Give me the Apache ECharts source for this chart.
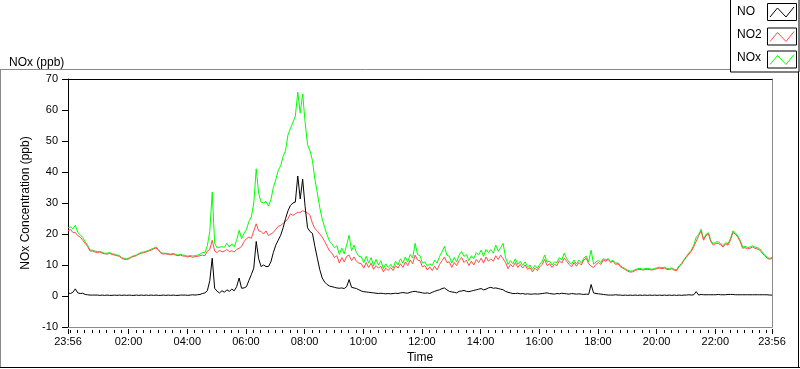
<!DOCTYPE html>
<html>
<head>
<meta charset="utf-8">
<script src="https://cdn.jsdelivr.net/npm/echarts@6/dist/echarts.min.js"></script>
<style>html,body{margin:0;padding:0;background:#fff;}#c{width:800px;height:369px;}</style>
</head>
<body>
<div id="c"></div>
<script>
// Sampling: one value every 5 minutes, starting 23:56 (minute -4 relative to midnight)
const startMinute = -4;
const stepMinutes = 5;

// NO (ppb)
const no = [
1.0,0.8,1.2,2.3,1.0,0.8,0.9,0.5,0.4,0.3,0.3,0.3,
0.3,0.2,0.3,0.2,0.3,0.2,0.2,0.3,0.2,0.3,0.2,0.3,
0.2,0.3,0.2,0.2,0.3,0.2,0.3,0.2,0.3,0.2,0.3,0.2,
0.3,0.2,0.2,0.3,0.2,0.3,0.2,0.3,0.2,0.2,0.3,0.3,
0.3,0.2,0.3,0.4,0.3,0.4,0.5,0.8,1.0,1.7,4.9,12.2,
2.5,1.5,1.0,1.7,1.2,2.0,1.5,2.2,1.7,3.0,5.8,2.5,
2.6,3.0,5.0,6.9,9.0,17.6,12,9.5,10,9.5,9.5,11,
14,16.4,18,19.6,22,25,27.5,29.2,30,30.3,38.7,31.3,
37.7,28.8,22,20.8,20.2,16,12.2,8.5,5.8,4.5,3.7,3.2,
3.0,2.8,2.6,2.5,2.6,2.4,3.0,5.3,2.8,2.6,2.4,2.0,
1.6,1.4,1.3,1.2,1.1,1.0,0.9,0.8,0.9,0.8,0.7,0.8,
0.7,0.8,0.9,0.8,1.0,1.1,1.0,0.9,1.2,1.4,1.5,1.3,
1.2,1.0,0.9,1.0,0.8,1.2,1.5,1.8,2.0,2.4,2.6,2.0,
1.5,1.3,1.2,1.0,1.5,1.6,1.8,1.5,1.4,1.6,1.8,2.0,
2.2,2.4,2.0,2.2,2.6,2.8,2.5,2.6,2.4,2.2,2.0,1.5,
1.2,1.0,0.8,0.8,0.9,0.7,0.8,0.6,0.7,0.6,0.6,0.7,
0.6,0.7,0.8,0.9,1.0,0.8,0.7,0.6,0.8,0.7,0.9,0.8,
0.7,0.6,0.8,0.7,0.6,0.7,0.6,0.5,0.6,0.5,3.7,1.0,
0.8,0.7,0.6,0.5,0.4,0.3,0.3,0.3,0.4,0.3,0.3,0.2,
0.3,0.2,0.3,0.2,0.3,0.2,0.3,0.2,0.3,0.2,0.3,0.2,
0.3,0.2,0.3,0.2,0.3,0.2,0.3,0.2,0.3,0.2,0.3,0.2,
0.3,0.3,0.4,0.3,0.4,1.4,0.3,0.5,0.4,0.4,0.4,0.4,
0.4,0.4,0.5,0.4,0.4,0.4,0.5,0.5,0.5,0.4,0.4,0.4,
0.4,0.4,0.4,0.4,0.4,0.4,0.4,0.4,0.4,0.4,0.4,0.3,
0.3
];

// NO2 (ppb)
const no2 = [
21,21.5,20.5,20.5,19.5,19,18,17,16,14.5,14.5,14.2,
14,14.2,13.8,13.6,13.5,13.8,13.4,13.2,13,12.8,12.2,11.8,
11.8,12,12.5,12.8,13,13.5,13.8,14,14.2,14.5,14.8,15.2,
15.5,14.8,13.8,13.5,13.6,13.4,13.3,13.5,13.2,13,13.2,12.9,
12.8,12.6,12.8,12.5,12.7,12.8,13.0,13.2,13.0,14.5,15.0,18.0,
14.5,14.0,14.8,14.2,14.5,15.0,14.3,14.6,14.2,15.0,15.4,16.0,
17.5,18.5,19,18.6,21,23.3,21,20.8,20,21,19.5,20,
20.5,21.5,22.5,22.7,23.5,24,25,26.5,26,26.5,27,27,
27.5,27.2,26.8,26,23.5,21.7,21,20,19,17.6,16,14.5,
13.8,12.4,13.0,10.6,12.4,11.0,12.8,13.2,11.4,12.6,11.2,10.6,
10.4,9.0,10.8,9.2,10.6,8.6,9.8,9.0,9.6,7.8,9.0,8.2,
9.2,8.2,9.8,9.0,10.4,9.2,11.0,9.8,11.6,10.4,13.2,11.6,
11.4,9.4,9.8,8.4,9.4,8.2,9.6,8.4,10.2,11.4,12.6,10.8,
11.0,9.2,10.8,9.8,11.4,12.4,10.8,11.6,9.8,11.2,10.0,11.8,
10.8,12.2,10.6,12.6,11.2,12.0,11.2,13.0,11.8,13.2,12.0,10.8,
8.8,10.2,9.4,10.8,9.2,10.2,9.0,10.0,8.6,9.2,7.8,9.0,
8.2,9.4,10.2,11.8,9.8,10.4,9.2,10.2,9.8,11.4,10.6,12.2,
11.2,10.2,9.4,10.8,9.6,10.8,10.0,11.6,12.2,10.4,9.6,9.2,
10.2,10.8,10.2,11.6,11.2,11.8,10.8,11.2,10.2,10.4,9.4,9.0,
8.5,8,7.7,7.8,8.2,8.5,8.6,8.4,8.5,8.6,8.5,8.4,
8.6,8.8,9,8.8,9,8.6,8.5,8.8,8.3,8.2,9.5,10.2,
11.5,12.5,13.5,14.4,16,17.6,19.5,21,18,19.5,20,17.5,
16.4,17,17,16.5,15.8,16.8,16.4,18,20.5,20,19,17.5,
15.4,15.6,15.2,15.4,15.8,15.4,15.2,14.8,13.8,13,12.2,11.8,
12.2
];

// NOx (ppb)
const nox = [
22,22.3,21.7,22.8,20.5,19.8,18.9,17.5,16.4,14.8,14.8,14.5,
14.3,14.4,14.1,13.8,13.8,14.0,13.6,13.5,13.2,13.1,12.4,12.1,
12.0,12.3,12.7,13.0,13.3,13.7,14.1,14.2,14.5,14.7,15.1,15.4,
15.8,15.0,14.0,13.8,13.8,13.7,13.5,13.8,13.4,13.2,13.5,13.2,
13.1,12.8,13.1,12.9,13.0,13.2,13.5,14.0,14.0,16.2,20.8,33.5,
17.0,15.5,15.8,15.9,15.7,17.0,15.8,16.8,15.9,18.0,21.2,18.5,
20.1,21.5,24.0,25.5,30.0,41.0,33.0,30.3,30.0,30.5,29.0,31.0,
35,37.5,40.5,42,45,47,52,54,56,58,65.8,59,
65.2,56,48.8,46.8,43.7,37.7,33.2,28.5,24.8,22.1,19.7,17.7,
16.8,15.6,16.2,13.4,15.5,13.6,16.4,19.6,14.6,16.4,14.0,12.8,
12.6,10.8,12.8,10.6,12.4,9.8,11.8,10.0,11.4,8.8,10.4,9.2,
10.2,9.0,11.2,10.0,12.0,10.6,12.6,11.0,13.4,12.2,17.0,13.4,
13.0,10.6,11.0,9.6,10.4,9.8,11.6,10.6,12.8,14.2,16.0,13.2,
12.8,10.6,12.4,11.0,13.2,14.4,12.8,13.4,11.4,13.0,12.0,14.0,
13.2,14.8,12.8,15.0,14.0,15.0,13.8,16.4,14.4,15.6,17.0,12.4,
10.2,11.4,10.4,12.0,10.2,11.2,9.9,11.0,9.4,10.0,8.6,9.9,
8.9,10.2,11.2,13.2,10.9,11.3,10.0,11.0,10.8,12.4,11.6,13.8,
12.0,10.9,10.3,11.6,10.3,11.6,10.7,12.2,12.9,11.0,14.8,10.3,
11.0,11.5,10.8,12.1,11.6,12.1,11.1,11.5,10.6,10.7,9.7,9.2,
8.8,8.3,8.0,8.1,8.5,8.8,8.9,8.7,8.8,8.9,8.8,8.6,
8.9,9.1,9.3,9.1,9.3,8.9,8.8,9.1,8.6,8.5,9.8,10.5,
11.8,12.8,13.9,14.8,16.4,19.0,19.8,21.5,18.4,19.9,20.4,17.9,
16.8,17.4,17.5,16.9,16.2,17.2,16.9,18.5,21.0,20.4,19.4,17.9,
15.8,16.0,15.6,15.8,16.2,15.8,15.6,15.2,14.2,13.4,12.6,12.1,
12.5
];

// X axis tick labels (minutes relative to midnight) and their texts
const tickMinutes = [-4,120,240,360,480,600,720,840,960,1080,1200,1320,1436];
const tickLabels = ['23:56','02:00','04:00','06:00','08:00','10:00','12:00','14:00','16:00','18:00','20:00','22:00','23:56'];
const minorStep = 15;

const seriesNames = ['NO','NO2','NOx'];
const seriesColors = ['#000000','#ff4a4a','#00ff00'];

const FONT = "'Liberation Sans', Arial, sans-serif";

function pairs(arr){ return arr.map((v,i)=>[startMinute + i*stepMinutes, v]); }

const minorTicks = [];
for (let m = 0; m < 1436; m += minorStep) { if (tickMinutes.indexOf(m) < 0) minorTicks.push(m); }

const xMin = tickMinutes[0], xMax = tickMinutes[tickMinutes.length-1];

const chart = echarts.init(document.getElementById('c'), null, {renderer:'canvas'});

function legendRow(i, textY, boxY){
  return [
    {type:'text', left:737, top:textY, style:{text:seriesNames[i], font:'12px ' + FONT, fill:'#000'}},
    {type:'rect', shape:{x:767.5, y:boxY+0.5, width:29, height:17}, style:{fill:'#fff', stroke:'#000', lineWidth:1}},
    {type:'polyline', shape:{points:[[770,boxY+14],[777.5,boxY+5],[786,boxY+14],[794,boxY+4]]}, style:{stroke:seriesColors[i], lineWidth:1, fill:null}}
  ];
}

const option = {
  backgroundColor:'#fff',
  animation:false,
  title:{text:'NOx (ppb)', left:4, top:52, textStyle:{fontFamily:FONT, fontSize:12, fontWeight:'normal', color:'#000'}},
  grid:{left:68, right:28, top:79, bottom:39, containLabel:false},
  xAxis:[
    {type:'value', min:xMin, max:xMax, position:'bottom',
     axisLine:{show:true, onZero:false, lineStyle:{color:'#8a8a8a', width:1}}, axisTick:{show:false}, axisLabel:{show:false}, splitLine:{show:false}},
    {type:'value', min:xMin, max:xMax, position:'bottom', offset:2,
     axisLine:{show:false, onZero:false}, splitLine:{show:false},
     axisTick:{show:true, customValues:tickMinutes, length:5, lineStyle:{color:'#000'}},
     axisLabel:{show:true, customValues:tickMinutes, margin:7, fontFamily:FONT, fontSize:11, color:'#000',
       formatter:function(v){ const k = tickMinutes.indexOf(v); return k>=0 ? tickLabels[k] : ''; }},
     name:'Time', nameLocation:'middle', nameGap:23, nameTextStyle:{fontFamily:FONT, fontSize:12, color:'#000', verticalAlign:'top'}},
    {type:'value', min:xMin, max:xMax, position:'bottom', offset:3,
     axisLine:{show:false, onZero:false}, splitLine:{show:false}, axisLabel:{show:false},
     axisTick:{show:true, customValues:minorTicks, length:3, lineStyle:{color:'#000'}}},
    {type:'value', min:xMin, max:xMax, position:'top',
     axisLine:{show:true, onZero:false, lineStyle:{color:'#000'}}, axisTick:{show:false}, axisLabel:{show:false}, splitLine:{show:false}}
  ],
  yAxis:[
    {type:'value', min:-10, max:70, interval:10, position:'left',
     axisLine:{show:true, onZero:false, lineStyle:{color:'#000'}},
     axisTick:{show:true, length:6, lineStyle:{color:'#000'}},
     axisLabel:{margin:10, fontFamily:FONT, fontSize:11, color:'#000'},
     splitLine:{show:false},
     name:'NOx Concentration (ppb)', nameLocation:'middle', nameGap:29, nameRotate:90,
     nameTextStyle:{fontFamily:FONT, fontSize:12, color:'#000'}},
    {type:'value', min:-10, max:70, interval:10, position:'right',
     axisLine:{show:true, onZero:false, lineStyle:{color:'#8a8a8a'}}, axisTick:{show:false}, axisLabel:{show:false}, splitLine:{show:false}}
  ],
  series:[
    {name:'NOx', type:'line', data:pairs(nox), xAxisIndex:0, yAxisIndex:0, showSymbol:false, symbol:'none',
     lineStyle:{color:seriesColors[2], width:1}, itemStyle:{color:seriesColors[2]}},
    {name:'NO2', type:'line', data:pairs(no2), xAxisIndex:0, yAxisIndex:0, showSymbol:false, symbol:'none',
     lineStyle:{color:seriesColors[1], width:1}, itemStyle:{color:seriesColors[1]}},
    {name:'NO', type:'line', data:pairs(no), xAxisIndex:0, yAxisIndex:0, showSymbol:false, symbol:'none',
     lineStyle:{color:seriesColors[0], width:1}, itemStyle:{color:seriesColors[0]}}
  ],
  graphic:[
    // outer panel frame
    {type:'line', shape:{x1:0, y1:69.5, x2:731, y2:69.5}, style:{stroke:'#8a8a8a', lineWidth:1}},
    {type:'line', shape:{x1:0.5, y1:69, x2:0.5, y2:368}, style:{stroke:'#8a8a8a', lineWidth:1}},
    {type:'line', shape:{x1:0, y1:367.5, x2:800, y2:367.5}, style:{stroke:'#000', lineWidth:1}},
    {type:'line', shape:{x1:798.5, y1:72, x2:798.5, y2:368}, style:{stroke:'#000', lineWidth:1}},
    // legend box
    {type:'rect', shape:{x:730.5, y:-1, width:68.5, height:73}, style:{fill:'#fff', stroke:'#000', lineWidth:1}},
    ...legendRow(0, 6, 3),
    ...legendRow(1, 29, 27.5),
    ...legendRow(2, 52, 50.5)
  ]
};
chart.setOption(option);
</script>
</body>
</html>
